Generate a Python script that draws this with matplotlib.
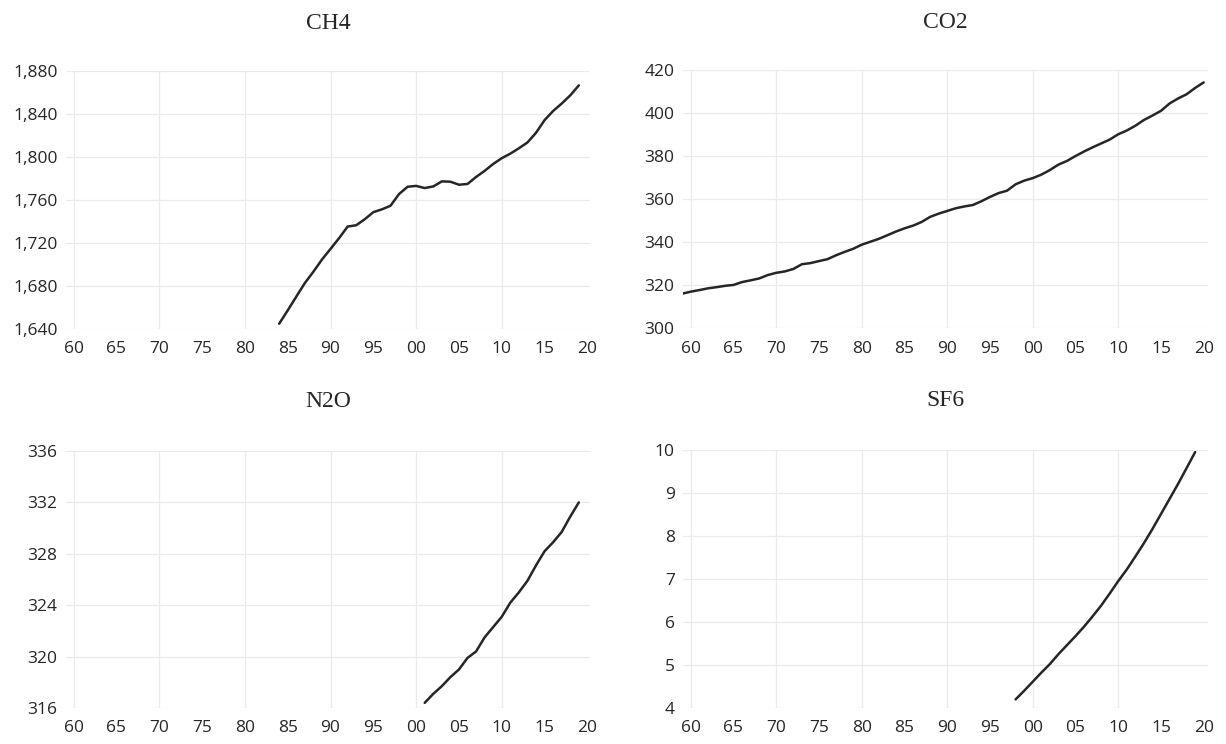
import matplotlib
matplotlib.use("Agg")
import matplotlib.pyplot as plt
from matplotlib.ticker import FuncFormatter

# annual means
co2_years = list(range(1959, 2021))
co2 = [315.98, 316.91, 317.64, 318.45, 318.99, 319.62, 320.04, 321.37, 322.18, 323.05,
       324.62, 325.68, 326.32, 327.46, 329.68, 330.19, 331.13, 332.03, 333.84, 335.41,
       336.84, 338.76, 340.12, 341.48, 343.15, 344.87, 346.35, 347.61, 349.31, 351.69,
       353.20, 354.45, 355.70, 356.54, 357.21, 358.96, 360.97, 362.74, 363.88, 366.84,
       368.54, 369.71, 371.32, 373.45, 375.98, 377.70, 379.98, 382.09, 384.02, 385.83,
       387.64, 390.10, 391.85, 394.06, 396.74, 398.81, 401.01, 404.41, 406.76, 408.72,
       411.66, 414.24]

ch4_years = list(range(1984, 2020))
ch4 = [1644.9, 1657.3, 1670.1, 1682.7, 1693.3, 1704.6, 1714.5, 1724.5, 1735.3, 1736.5,
       1742.1, 1748.7, 1751.3, 1754.6, 1765.5, 1772.3, 1773.1, 1771.1, 1772.6, 1777.3,
       1777.0, 1774.2, 1774.9, 1781.4, 1787.1, 1793.5, 1798.9, 1803.1, 1808.1, 1813.5,
       1822.5, 1834.3, 1842.8, 1849.7, 1857.3, 1866.6]

n2o_years = list(range(2001, 2020))
n2o = [316.4, 317.1, 317.7, 318.4, 319.0, 319.9, 320.4, 321.5, 322.3, 323.1,
       324.2, 325.0, 325.9, 327.1, 328.2, 328.9, 329.7, 330.9, 332.0]

sf6_years = list(range(1998, 2020))
sf6 = [4.20, 4.40, 4.61, 4.82, 5.02, 5.25, 5.46, 5.67, 5.89, 6.13, 6.38, 6.66,
       6.95, 7.22, 7.52, 7.83, 8.16, 8.51, 8.86, 9.21, 9.58, 9.95]

xticks = list(range(1960, 2021, 5))
xlabels = ['%02d' % (y % 100) for y in xticks]

plt.rcParams['font.family'] = ['Open Sans', 'DejaVu Sans']

fig = plt.figure(figsize=(12.26, 7.44), dpi=100)

panels = [
    ('CH4', ch4_years, ch4, (1640, 1880), 40, [0.0538, 0.5578, 0.4274, 0.3468], 30, True),
    ('CO2', co2_years, co2, (300, 420), 20, [0.5571, 0.5591, 0.4282, 0.3468], 30, False),
    ('N2O', n2o_years, n2o, (316, 336), 4, [0.0538, 0.0484, 0.4274, 0.3454], 32, False),
    ('SF6', sf6_years, sf6, (4, 10), 1, [0.5571, 0.0484, 0.4282, 0.3468], 32, False),
]

for title, yrs, vals, ylim, step, rect, pad, comma in panels:
    ax = fig.add_axes(rect)
    ax.plot(yrs, vals, color='#262626', lw=1.8, solid_capstyle='round')
    if rect[0] < 0.5:
        ax.set_xlim(1959.1, 2020.3)
    else:
        ax.set_xlim(1959.1, 2020.5)
    ax.set_ylim(*ylim)
    ax.set_yticks(list(range(ylim[0], ylim[1] + 1, step)))
    if comma:
        ax.yaxis.set_major_formatter(FuncFormatter(lambda v, p: '{:,.0f}'.format(v)))
    ax.set_xticks(xticks)
    ax.set_xticklabels(xlabels)
    # vertical grid only every ten years
    for y in range(1960, 2021, 10):
        if y <= 2010:
            ax.axvline(y, color='#ebebeb', lw=0.9, zorder=0)
    ax.grid(axis='y', color='#ebebeb', lw=0.9, zorder=0)
    for s in ax.spines.values():
        s.set_visible(False)
    ax.tick_params(length=0, labelsize=12.5, colors='#262626')
    ax.tick_params(axis='x', pad=9)
    ax.tick_params(axis='y', pad=6)
    ax.set_title(title, fontsize=17, family='Liberation Serif', color='#262626', pad=pad)

fig.savefig('out.png', dpi=100)
